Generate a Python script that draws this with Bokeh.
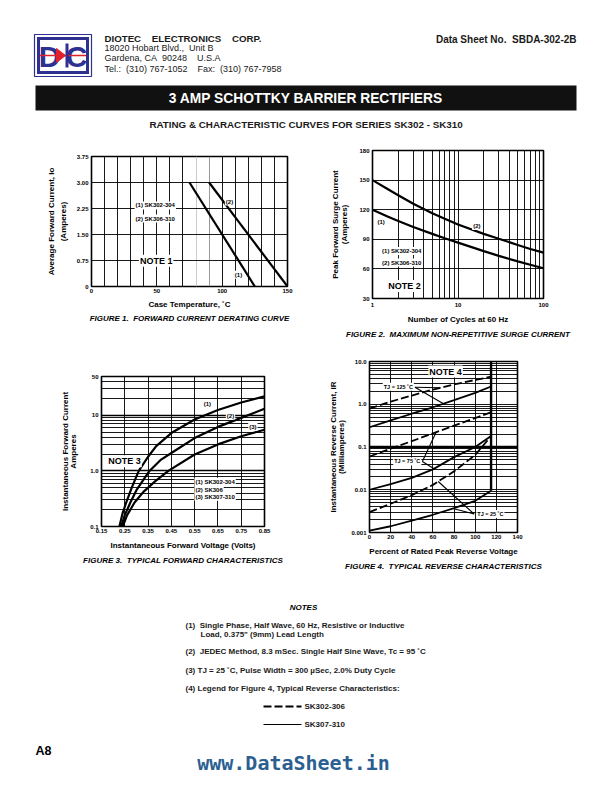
import numpy as np
from bokeh.plotting import figure
from bokeh.layouts import column, row
from bokeh.models import Range1d, FixedTicker, Grid, Label, Title, Span
from bokeh.core.properties import value
from bokeh.embed import file_html
from bokeh.resources import INLINE

FONT = "Liberation Sans"
BLUE = "#2e3192"
RED = "#e0202a"
SP = "\u00a0"

# ---------------- data ----------------
# Figure 1: forward current derating
fig1_temp_sk302 = [75, 125]
fig1_amps_sk302 = [3.0, 0.0]
fig1_temp_sk306 = [90, 150]
fig1_amps_sk306 = [3.0, 0.0]
fig1_xticks = [0, 50, 100, 150]
fig1_yticks = [0, 0.75, 1.5, 2.25, 3.0, 3.75]
fig1_ylabels = ["0", "0.75", "1.50", "2.25", "3.00", "3.75"]

# Figure 2: surge current
fig2_cycles = [1, 1.5, 2, 3, 5, 7, 10, 20, 30, 50, 70, 100]
fig2_surge_sk302 = [120, 113, 108.5, 102.5, 95.5, 91, 86.6, 78, 73.2, 67.6, 64.2, 60.7]
fig2_surge_sk306 = [150, 141, 134.6, 126, 116.5, 110.8, 105, 95.5, 90.5, 84.3, 80.2, 76.5]
fig2_xticks = [1, 10, 100]
fig2_yticks = [30, 60, 90, 120, 150, 180]

# Figure 3: forward characteristics
fig3_v_1 = [0.227, 0.24, 0.256, 0.28, 0.31, 0.35, 0.385, 0.45, 0.55, 0.65, 0.75, 0.85]
fig3_i_1 = [0.1, 0.17, 0.27, 0.5, 1.0, 1.8, 2.8, 4.8, 8.4, 12.5, 17, 22]
fig3_v_2 = [0.234, 0.25, 0.274, 0.30, 0.356, 0.406, 0.45, 0.55, 0.65, 0.75, 0.85]
fig3_i_2 = [0.1, 0.16, 0.27, 0.45, 1.0, 1.6, 2.1, 3.9, 6.2, 9.0, 13.1]
fig3_v_3 = [0.241, 0.26, 0.292, 0.33, 0.38, 0.437, 0.55, 0.65, 0.75, 0.85]
fig3_i_3 = [0.1, 0.16, 0.27, 0.42, 0.65, 1.0, 1.97, 3.0, 4.2, 5.5]
fig3_xticks = [0.15, 0.25, 0.35, 0.45, 0.55, 0.65, 0.75, 0.85]
fig3_xlabels = ["0.15", "0.25", "0.35", "0.45", "0.55", "0.65", "0.75", "0.85"]
fig3_yticks = [0.1, 1, 10, 50]
fig3_ylabels = ["0.1", "1.0", "10", "50"]

# Figure 4: reverse characteristics (percent of rated PRV)
fig4_pct = [0, 20, 40, 60, 80, 100, 115]
fig4_125_dash = [0.79, 1.15, 1.6, 2.2, 2.9, 3.7, 4.4]
fig4_125_solid = [0.29, 0.42, 0.6, 0.85, 1.25, 1.85, 2.6]
fig4_75_dash = [0.06, 0.091, 0.137, 0.208, 0.315, 0.476, 0.65]
fig4_75_solid = [0.010, 0.0135, 0.019, 0.030, 0.058, 0.10, 0.18]
fig4_25_dash = [0.003, 0.0047, 0.0075, 0.013, 0.027, 0.065, 0.18]
fig4_25_solid = [0.0011, 0.0014, 0.0019, 0.0026, 0.0037, 0.0055, 0.0095]
fig4_xticks = [0, 20, 40, 60, 80, 100, 120, 140]
fig4_yticks = [0.001, 0.01, 0.1, 1, 10]
fig4_ylabels = ["0.001", "0.01", "0.1", "1.0", "10.0"]


def log_minor(lo_exp, hi_val):
    out = []
    for e in range(lo_exp, 3):
        for m in range(1, 10):
            v = round(m * 10 ** e, 6)
            if hi_val > v > 10 ** lo_exp:
                out.append(v)
    return out


def chart(width, height, left, right, top, bottom, xr, yr, xtype="linear", ytype="linear"):
    p = figure(width=width, height=height, x_range=xr, y_range=yr,
               x_axis_type=xtype, y_axis_type=ytype,
               output_backend="svg", toolbar_location=None,
               min_border_left=left, min_border_right=right,
               min_border_top=top, min_border_bottom=bottom)
    p.outline_line_color = "black"
    p.outline_line_width = 1.6
    p.background_fill_color = "white"
    p.border_fill_color = "white"
    p.xgrid.visible = False
    p.ygrid.visible = False
    for ax in (p.xaxis[0], p.yaxis[0]):
        ax.axis_line_color = None
        ax.major_tick_line_color = None
        ax.minor_tick_line_color = None
        ax.major_tick_out = 0
        ax.major_tick_in = 0
        ax.minor_tick_out = 0
        ax.minor_tick_in = 0
        ax.major_label_text_font = FONT
        ax.major_label_text_font_size = "6px"
        ax.major_label_text_font_style = "bold"
        ax.major_label_text_color = "black"
        ax.axis_label_text_font = FONT
        ax.axis_label_text_font_size = "8px"
        ax.axis_label_text_font_style = "bold"
        ax.axis_label_text_color = "black"
        ax.major_label_standoff = 3
    p.xaxis.major_label_standoff = 2
    p.xaxis.axis_label_standoff = 5
    return p


def add_grid(p, dim, ticks, color="black", width=0.9):
    p.add_layout(Grid(dimension=dim, ticker=FixedTicker(ticks=ticks),
                      grid_line_color=color, grid_line_width=width))


def note(p, x, y, text, size="6px", align="center", bg="white"):
    p.add_layout(Label(x=x, y=y, text=text, text_font=FONT, text_font_size=size,
                       text_font_style="bold", text_align=align, text_baseline="middle",
                       text_color="black", background_fill_color=bg, padding=1))


def caption(p, text, offset, standoff=2):
    p.add_layout(Title(text=text, text_font=FONT, text_font_size="8px",
                       text_font_style="bold italic", align="center",
                       offset=offset, standoff=standoff, text_color="black"), "below")


# ---------------- header ----------------
hdr = figure(width=596, height=134, x_range=Range1d(1, 597), y_range=Range1d(135, 1),
             x_axis_type=None, y_axis_type=None, output_backend="svg",
             toolbar_location=None, min_border=0)
hdr.outline_line_color = None
# logo
hdr.quad(left=35, right=92, top=35, bottom=77, fill_color="white", line_color=BLUE, line_width=1.2)
hdr.quad(left=37.5, right=89.5, top=37.5, bottom=74.5, fill_color=BLUE, line_color=None)
hdr.quad(left=40.5, right=86.5, top=40.5, bottom=71.5, fill_color="white", line_color=None)
hdr.text(x=[50], y=[57], text=["D"], text_font=value(FONT), text_font_size="30px",
         text_font_style="bold", text_color=BLUE, text_align="center", text_baseline="middle")
hdr.text(x=[77], y=[57], text=["C"], text_font=value(FONT), text_font_size="30px",
         text_font_style="bold", text_color=BLUE, text_align="center", text_baseline="middle")
hdr.segment(x0=[40.5], y0=[56], x1=[86.5], y1=[56], line_color=RED, line_width=1.5)
hdr.patch(x=[57, 57, 66], y=[49, 63, 56], color=RED)
hdr.quad(left=66, right=69, top=44, bottom=68, fill_color=BLUE, line_color=None)

hdr.text(x=[105], y=[38.5], text=["DIOTEC" + SP * 4 + "ELECTRONICS" + SP * 4 + "CORP."],
         text_font=value(FONT), text_font_size="9.7px", text_font_style="bold",
         text_baseline="middle", text_color="#1a1a1a")
hdr.text(x=[105, 105, 105], y=[48.5, 58.5, 69],
         text=["18020 Hobart Blvd.," + SP * 2 + "Unit B",
               "Gardena, CA" + SP * 2 + "90248" + SP * 4 + "U.S.A",
               "Tel.:" + SP * 2 + "(310) 767-1052" + SP * 4 + "Fax:" + SP * 2 + "(310) 767-7958"],
         text_font=value(FONT), text_font_size="9px", text_baseline="middle", text_color="#1a1a1a")
hdr.text(x=[577], y=[40], text=["Data Sheet No." + SP * 2 + "SBDA-302-2B"], text_font=value(FONT),
         text_font_size="10px", text_font_style="bold", text_align="right",
         text_baseline="middle", text_color="#1a1a1a")
hdr.quad(left=36, right=577, top=86, bottom=111, fill_color="#111111", line_color=None)
hdr.text(x=[306.5], y=[98.5], text=["3 AMP SCHOTTKY BARRIER RECTIFIERS"], text_font=value(FONT),
         text_font_size="13.8px", text_font_style="bold", text_align="center",
         text_baseline="middle", text_color="white")
hdr.text(x=[306.5], y=[124.5], text=["RATING & CHARACTERISTIC CURVES FOR SERIES SK302 - SK310"],
         text_font=value(FONT), text_font_size="9.8px", text_font_style="bold",
         text_align="center", text_baseline="middle", text_color="#1a1a1a")

# ---------------- Figure 1 ----------------
f1 = chart(298, 205, 91, 11, 22, 53, Range1d(0, 150), Range1d(0, 3.75))
f1.xaxis.ticker = FixedTicker(ticks=fig1_xticks)
f1.yaxis.ticker = FixedTicker(ticks=fig1_yticks)
f1.yaxis.major_label_overrides = {t: l for t, l in zip(fig1_yticks, fig1_ylabels)}
f1.xaxis.axis_label = "Case Temperature, \u02daC"
f1.yaxis.axis_label = "Average Forward Current, Io\n(Amperes)"
f1.xaxis.axis_label_standoff = 4
f1.yaxis.axis_label_standoff = 6
f1.yaxis.axis_label_text_line_height = 1.35
add_grid(f1, 0, [t for t in range(10, 150, 10) if t not in (80, 90)])
add_grid(f1, 0, [80], color="#c4c4c4")
add_grid(f1, 0, [90], color="#8c8c8c")
add_grid(f1, 1, [0.75, 1.5, 2.25, 3.0])
f1.line(fig1_temp_sk302, fig1_amps_sk302, line_color="black", line_width=2.2)
f1.line(fig1_temp_sk306, fig1_amps_sk306, line_color="black", line_width=2.2)
note(f1, 48.8, 2.34, "(1) SK302-304")
note(f1, 48.8, 1.96, "(2) SK306-310")
note(f1, 49.5, 0.74, "NOTE 1", size="9px")
note(f1, 105.6, 2.45, "(2)")
note(f1, 112.5, 0.34, "(1)")
caption(f1, "FIGURE 1." + SP * 2 + "FORWARD CURRENT DERATING CURVE", -6, 1)

# ---------------- Figure 2 ----------------
f2 = chart(298, 205, 74, 53, 16, 41, Range1d(1, 100), Range1d(30, 180), xtype="log")
f2.xaxis.ticker = FixedTicker(ticks=fig2_xticks)
f2.xaxis.major_label_overrides = {1: "1", 10: "10", 100: "100"}
f2.yaxis.ticker = FixedTicker(ticks=fig2_yticks)
f2.xaxis.axis_label = "Number of Cycles at 60 Hz"
f2.yaxis.axis_label = "Peak Forward Surge Current\n(Amperes)"
f2.xaxis.major_label_standoff = 4
f2.yaxis.axis_label_standoff = 7
f2.yaxis.axis_label_text_line_height = 1.05
add_grid(f2, 0, [2, 3, 4, 5, 6, 7, 8, 9, 10, 20, 30, 40, 50, 60, 70, 80, 90])
add_grid(f2, 1, [60, 90, 120, 150])
f2.line(fig2_cycles, fig2_surge_sk302, line_color="black", line_width=2.2)
f2.line(fig2_cycles, fig2_surge_sk306, line_color="black", line_width=2.2)
note(f2, 1.26, 107.5, "(1)")
note(f2, 16.6, 103.4, "(2)")
note(f2, 1.26, 78.1, "(1) SK302-304", align="left")
note(f2, 1.26, 66.4, "(2) SK306-310", align="left")
note(f2, 2.37, 42.7, "NOTE 2", size="9px")
caption(f2, "FIGURE 2." + SP * 2 + "MAXIMUM NON-REPETITIVE SURGE CURRENT", -5)

# ---------------- Figure 3 ----------------
f3 = chart(298, 232, 101, 34, 37, 45, Range1d(0.15, 0.85), Range1d(0.1, 50), ytype="log")
f3.xaxis.ticker = FixedTicker(ticks=fig3_xticks)
f3.xaxis.major_label_overrides = {t: l for t, l in zip(fig3_xticks, fig3_xlabels)}
f3.yaxis.ticker = FixedTicker(ticks=fig3_yticks)
f3.yaxis.major_label_overrides = {t: l for t, l in zip(fig3_yticks, fig3_ylabels)}
f3.xaxis.axis_label = "Instantaneous Forward Voltage (Volts)"
f3.yaxis.axis_label = "Instantaneous Forward Current\nAmperes"
f3.yaxis.axis_label_standoff = 9
f3.yaxis.axis_label_text_line_height = 0.9
add_grid(f3, 0, fig3_xticks[1:-1])
add_grid(f3, 1, [v for v in log_minor(-1, 50) if v not in (1, 10)])
add_grid(f3, 1, [1, 10], width=1.5)
f3.line(fig3_v_1, fig3_i_1, line_color="black", line_width=2.2)
f3.line(fig3_v_2, fig3_i_2, line_color="black", line_width=2.2)
f3.line(fig3_v_3, fig3_i_3, line_color="black", line_width=2.2)
note(f3, 0.605, 15.7, "(1)")
note(f3, 0.704, 9.9, "(2)")
note(f3, 0.80, 6.2, "(3)")
note(f3, 0.249, 1.5, "NOTE 3", size="9px")
note(f3, 0.549, 0.637, "(1) SK302-304", align="left")
note(f3, 0.549, 0.463, "(2) SK306", align="left")
note(f3, 0.549, 0.342, "(3) SK307-310", align="left")
caption(f3, "FIGURE 3." + SP * 2 + "TYPICAL FORWARD CHARACTERISTICS", -8)

# ---------------- Figure 4 ----------------
f4 = chart(298, 232, 71, 79, 22, 39, Range1d(0, 140), Range1d(0.001, 10), ytype="log")
f4.xaxis.ticker = FixedTicker(ticks=fig4_xticks)
f4.yaxis.ticker = FixedTicker(ticks=fig4_yticks)
f4.yaxis.major_label_overrides = {t: l for t, l in zip(fig4_yticks, fig4_ylabels)}
f4.xaxis.axis_label = "Percent of Rated Peak Reverse Voltage"
f4.yaxis.axis_label = "Instantaneous Reverse Current, IR\n(Milliamperes)"
f4.yaxis.axis_label_standoff = 2
f4.yaxis.axis_label_text_line_height = 0.9
add_grid(f4, 0, fig4_xticks[1:-1])
add_grid(f4, 1, [v for v in log_minor(-3, 10) if v != 0.1])
f4.add_layout(Span(location=0.1, dimension="width", line_color="black", line_width=2.4))
f4.segment(x0=[fig4_pct[-1]], y0=[fig4_25_solid[-1]], x1=[fig4_pct[-1]], y1=[10],
           line_color="black", line_width=2.4)
for ys, dash in ((fig4_125_dash, "8 3"), (fig4_125_solid, "solid"), (fig4_75_dash, "8 3"),
                 (fig4_75_solid, "solid"), (fig4_25_dash, "8 3"), (fig4_25_solid, "solid")):
    f4.line(fig4_pct, ys, line_color="black", line_width=1.8, line_dash=dash)


def log_interp(x, xs, ys):
    return float(10 ** np.interp(x, xs, np.log10(ys)))


leaders = [
    ((43, 2.5), [(67, fig4_125_dash), (70, fig4_125_solid)]),
    ((50, 0.046), [(63, fig4_75_dash), (61, fig4_75_solid)]),
    ((99, 0.0027), [(65, fig4_25_dash), (79, fig4_25_solid)]),
]
for (ax_, ay_), targets in leaders:
    f4.segment(x0=[ax_] * len(targets), y0=[ay_] * len(targets),
               x1=[t[0] for t in targets],
               y1=[log_interp(t[0], fig4_pct, t[1]) for t in targets],
               line_color="black", line_width=1.1)
note(f4, 42, 2.55, "TJ = 125 \u02daC", size="5.5px", align="right")
note(f4, 49, 0.046, "TJ = 75 \u02daC", size="5.5px", align="right")
note(f4, 101, 0.0027, "TJ = 25 \u02daC", size="5.5px", align="left")
note(f4, 72, 5.8, "NOTE 4", size="9px")
caption(f4, "FIGURE 4." + SP * 2 + "TYPICAL REVERSE CHARACTERISTICS", -7)

# ---------------- footer ----------------
ftr = figure(width=596, height=205, x_range=Range1d(1, 597), y_range=Range1d(777, 572),
             x_axis_type=None, y_axis_type=None, output_backend="svg",
             toolbar_location=None, min_border=0)
ftr.outline_line_color = None
ftr.text(x=[304], y=[607.5], text=["NOTES"], text_font=value(FONT), text_font_size="8px",
         text_font_style="bold italic", text_align="center", text_baseline="middle")
ftr.text(x=[186, 201, 186, 186, 186], y=[626, 635, 652, 671, 689],
         text=["(1)" + SP * 2 + "Single Phase, Half Wave, 60 Hz, Resistive or Inductive",
               "Load, 0.375\" (9mm) Lead Length",
               "(2)" + SP * 2 + "JEDEC Method, 8.3 mSec. Single Half Sine Wave, Tc = 95 \u02daC",
               "(3) TJ = 25 \u02daC, Pulse Width = 300 \u00b5Sec, 2.0% Duty Cycle",
               "(4) Legend for Figure 4, Typical Reverse Characteristics:"],
         text_font=value(FONT), text_font_size="8px", text_font_style="bold",
         text_baseline="middle", text_color="#1a1a1a")
ftr.segment(x0=[264], y0=[707], x1=[302], y1=[707], line_color="black", line_width=1.8,
            line_dash="8 3")
ftr.segment(x0=[264], y0=[725], x1=[302], y1=[725], line_color="black", line_width=1.0)
ftr.text(x=[305, 305], y=[707, 725], text=["SK302-306", "SK307-310"], text_font=value(FONT),
         text_font_size="8px", text_font_style="bold", text_baseline="middle", text_color="#1a1a1a")
ftr.text(x=[36], y=[751], text=["A8"], text_font=value(FONT), text_font_size="12.5px",
         text_font_style="bold", text_baseline="middle")
ftr.text(x=[294], y=[763], text=["www.DataSheet.in"], text_font=value("DejaVu Sans Mono"),
         text_font_size="20px", text_font_style="bold", text_align="center",
         text_baseline="middle", text_color="#2b5f91")

layout = column(hdr, row(column(f1), column(f2)), row(column(f3), column(f4)), ftr)
open("out.html", "w").write(file_html(layout, INLINE))
